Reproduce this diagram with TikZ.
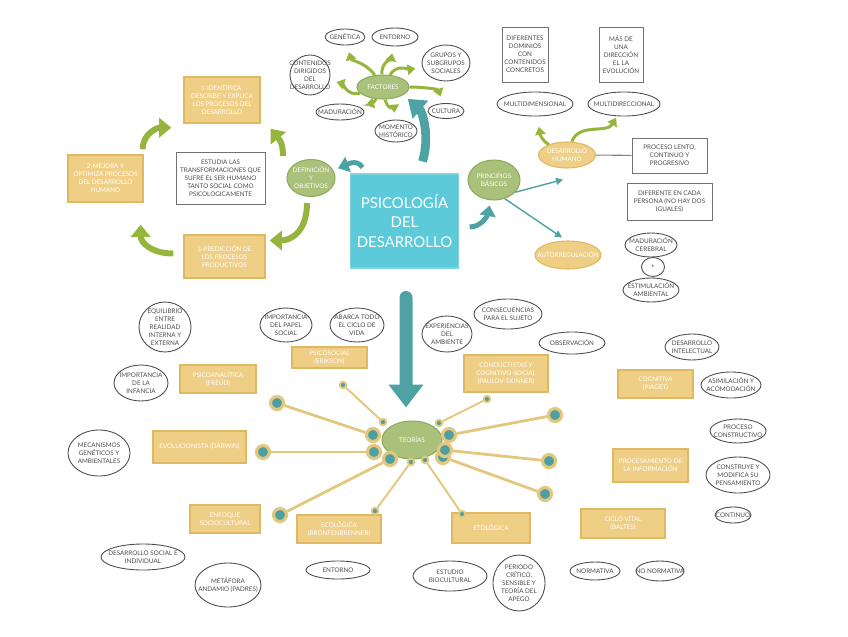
\documentclass[tikz,border=0pt]{standalone}
\usepackage{fontspec}
\setmainfont{Lato}
\usetikzlibrary{shapes.geometric,arrows.meta,positioning}

\definecolor{tanF}{HTML}{EFCE86}
\definecolor{tanD}{HTML}{E0B862}
\definecolor{grnF}{HTML}{A9C17A}
\definecolor{grnD}{HTML}{8FAA5C}
\definecolor{arrG}{HTML}{95B53C}
\definecolor{tealA}{HTML}{4FA2A3}
\definecolor{cyanB}{HTML}{5CCAD8}
\definecolor{ink}{HTML}{4D4D4D}
\definecolor{spk}{HTML}{E4C77E}
\definecolor{dotT}{HTML}{4E9FA1}

\newcommand{\sm}{\fontsize{3.6}{4.6}\selectfont}

\begin{document}
\begin{tikzpicture}[x=0.02cm, y=-0.02cm,
    sz/.style 2 args={minimum width=#1cm, minimum height=#2cm},
    tanbox/.style={rectangle, fill=tanF, draw=tanD, line width=0.8pt, text=white, align=center, font=\sm, inner sep=0.5pt},
    note/.style={rectangle, fill=white, draw=ink!80, line width=0.5pt, text=ink, align=center, font=\sm, inner sep=0.5pt},
    oval/.style={ellipse, fill=white, draw=ink, line width=0.5pt, inner sep=0pt},
    goval/.style={ellipse, fill=grnF, draw=grnD, line width=0.6pt, inner sep=0pt},
    toval/.style={ellipse, fill=tanF, draw=tanD, line width=0.6pt, inner sep=0pt},
    otxt/.style={font=\sm, text=ink, align=center, inner sep=0pt},
    wtxt/.style={font=\sm, text=white, align=center, inner sep=0pt},
    garrow/.style={draw=arrG, line width=1.7pt, -{Triangle[width=6pt,length=4.5pt]}, shorten >=4pt},
    cyc/.style={draw=arrG, line width=3.4pt, -{Triangle[width=11pt,length=7pt]}},
    tmid/.style={draw=tealA, line width=2.8pt, -{Triangle[width=9pt,length=6pt]}, shorten >=3pt},
    tthin/.style={draw=tealA, line width=0.8pt, -{Triangle[width=4pt,length=4pt]}},
    tbig/.style={draw=tealA, line width=5pt, -{Triangle[width=13pt,length=9.5pt]}},
    tdown/.style={draw=tealA, line width=7.4pt, line cap=round, -{Triangle[width=19pt,length=13pt]}},
    dotbig/.style={circle, fill=dotT, draw=spk, line width=1.8pt, minimum size=0.26cm, inner sep=0pt},
    dotsm/.style={circle, fill=dotT, draw=spk, line width=1.1pt, minimum size=0.13cm, inner sep=0pt},
    spokebig/.style={draw=spk, line width=1.6pt},
    spokesm/.style={draw=spk, line width=1.1pt}]
\useasboundingbox (0,0) rectangle (848,636);

% central topic
\node[rectangle, fill=cyanB, draw=cyanB!80!white, line width=0.6pt, sz={1.9}{1.88}, text=white, align=center,
      font=\fontsize{8.5}{11.3}\selectfont] (psi) at (404.5,221) {PSICOLOGÍA\\DEL\\DESARROLLO};

% cycle of aims
\foreach \nm/\x/\y/\ww/\hh/\txt in {
    b1/222/100/1.52/0.92/{1-IDENTIFICA,\\DESCRIBE Y EXPLICA\\LOS PROCESOS DEL\\DESARROLLO},
    b2/105.5/178.5/1.5/0.94/{2-MEJORA Y\\OPTIMIZA PROCESOS\\DEL DESARROLLO\\HUMANO},
    b3/224.5/256.5/1.62/0.86/{3-PREDICCIÓN DE\\LOS PROCESOS\\PRODUCTIVOS}}
  \node[tanbox, sz={\ww}{\hh}] (\nm) at (\x,\y) {\txt};
\node[note, sz={1.78}{1.04}] (est) at (220.5,178) {ESTUDIA LAS\\TRANSFORMACIONES QUE\\SUFRE EL SER HUMANO\\TANTO SOCIAL COMO\\PSICOLOGICAMENTE};
\node[goval, sz={0.96}{0.74}, label={[wtxt]center:{DEFINICIÓN\\Y\\OBJETIVOS}}] (def) at (311,178) {};

\draw[cyc] ([shift={(-1,-5)}]b2.north east) .. controls +(0,-16) and +(-14,0) .. ([shift={(-12,4)}]b1.south west);
\draw[cyc] ([shift={(-28,-3)}]def.north) .. controls +(0,-14) and +(8,10) .. ([shift={(10,5)}]b1.south east);
\draw[cyc] ([shift={(-4,6)}]def.south) .. controls +(0,30) and +(20,0) .. ([shift={(4,-16)}]b3.east);
\draw[cyc] ([shift={(-10,-3)}]b3.west) .. controls +(-22,0) and +(0,18) .. ([shift={(-3,22)}]b2.south east);
\draw[tmid] ([shift={(12,-6)}]psi.north west) to[out=120,in=20] (def);

% factors
\node[goval, sz={1.04}{0.48}, label={[wtxt]center:{FACTORES}}] (fac) at (383,87) {};
\foreach \nm/\x/\y/\ww/\hh/\o/\i/\txt in {
    gen/345/37/0.8/0.32/125/-75/{GENÉTICA},
    ent/395/37/0.92/0.36/95/-100/{ENTORNO},
    gru/446/63/0.96/0.72/60/190/{GRUPOS Y\\SUBGRUPOS\\SOCIALES},
    con/310/75/0.8/0.8/195/-15/{CONTENIDOS\\DIRIGIDOS\\DEL\\DESARROLLO},
    mad/340/112/0.96/0.32/-120/15/{MADURACIÓN},
    cul/446/111/0.72/0.3/0/110/{CULTURA},
    mom/396/131/0.84/0.44/-80/95/{MOMENTO\\HISTÓRICO}} {
  \node[oval, sz={\ww}{\hh}, label={[otxt]center:{\txt}}] (\nm) at (\x,\y) {};
  \draw[garrow] (fac) to[out=\o,in=\i] (\nm);
}
\draw[tbig] ([shift={(18,-12)}]psi.north) .. controls +(8,-26) and +(14,12) .. ([shift={(6,3)}]fac.south east);

% principles
\node[goval, sz={1.04}{0.8}, label={[wtxt]center:{PRINCIPIOS\\BÁSICOS}}] (pri) at (494,180) {};
\node[toval, sz={1.14}{0.52}, label={[wtxt]center:{DESARROLLO\\HUMANO}}] (dh) at (567,155) {};
\node[toval, sz={1.32}{0.56}, label={[wtxt]center:{AUTORREGULACIÓN}}] (aut) at (568,255) {};
\node[note, sz={0.92}{1.1}] (dom) at (525,54.5) {DIFERENTES\\DOMINIOS\\CON\\CONTENIDOS\\CONCRETOS};
\node[note, sz={0.88}{1.1}] (mas) at (621,54.5) {MÁS DE\\UNA\\DIRECCIÓN\\EL LA\\EVOLUCIÓN};
\node[note, sz={1.5}{0.7}] (len) at (669.5,155.5) {PROCESO LENTO,\\CONTINUO Y\\PROGRESIVO};
\node[note, sz={1.7}{0.74}] (dif) at (669.5,201.5) {DIFERENTE EN CADA\\PERSONA (NO HAY DOS\\IGUALES)};
\draw[tmid] ([shift={(11,6)}]psi.east) to[out=0,in=-100] (pri);
\draw[tthin] (pri.-30) -- ([shift={(-4,11)}]dh.south);
\draw[tthin] (pri.-60) -- ([shift={(-6,-3)}]aut.north);
\draw[ink!70, line width=0.6pt] (dh) -- (len);

% white ovals
\foreach \nm/\x/\y/\ww/\hh/\txt in {
    mdim/535/104/1.52/0.48/{MULTIDIMENSIONAL},
    mdir/624/104/1.44/0.48/{MULTIDIRECCIONAL},
    mce/651/245/1.04/0.48/{MADURACIÓN\\CEREBRAL},
    plus/653/267/0.46/0.38/{+},
    estim/651/290/1.12/0.48/{ESTIMULACIÓN\\AMBIENTAL},
    equ/165/327/1.04/1.0/{EQUILIBRIO\\ENTRE\\REALIDAD\\INTERNA Y\\EXTERNA},
    imi/141/383/1.08/0.72/{IMPORTANCIA\\DE LA\\INFANCIA},
    mec/99/453/1.24/0.92/{MECANISMOS\\GENÉTICOS Y\\AMBIENTALES},
    ips/286/325/1.04/0.68/{IMPORTANCIA\\DEL PAPEL\\SOCIAL},
    aba/357/325/1.08/0.68/{ABARCA TODO\\EL CICLO DE\\VIDA},
    exp/447/334/1.0/0.72/{EXPERIENCIAS\\DEL\\AMBIENTE},
    cns/508/314/1.36/0.6/{CONSECUENCIAS\\PARA EL SUJETO},
    obs/572/343/1.32/0.44/{OBSERVACIÓN},
    din/692/347/1.08/0.52/{DESARROLLO\\INTELECTUAL},
    asi/731/385/1.2/0.52/{ASIMILACIÓN Y\\ACOMODACIÓN},
    pcs/738/431/1.12/0.48/{PROCESO\\CONSTRUCTIVO},
    cmp/738/475/1.28/0.72/{CONSTRUYE Y\\MODIFICA SU\\PENSAMIENTO},
    cnt/733/515/0.72/0.32/{CONTINUO},
    nor/595/571/1.0/0.36/{NORMATIVA},
    non/660/571/0.96/0.4/{NO NORMATIVA},
    per/519/583/1.04/1.12/{PERIODO\\CRÍTICO,\\SENSIBLE Y\\TEORÍA DEL\\APEGO},
    ebc/450/576/1.48/0.6/{ESTUDIO\\BIOCULTURAL},
    entb/338/570/1.28/0.36/{ENTORNO},
    dsi/143/557/1.68/0.52/{DESARROLLO SOCIAL E\\INDIVIDUAL},
    met/228/585/1.32/0.88/{METÁFORA\\ANDAMIO (PADRES)}}
  \node[oval, sz={\ww}{\hh}, label={[otxt]center:{\txt}}] (\nm) at (\x,\y) {};
\draw[garrow, shorten >=6pt] (dh) to[out=150,in=-80] (mdim);
\draw[garrow, shorten >=1pt] (dh) to[out=70,in=-120] (mdir);

% theories
\node[goval, sz={1.2}{0.76}, label={[wtxt]center:{TEORÍAS}}] (teo) at (412,440) {};
\draw[tdown] ([shift={(1.5,29)}]psi.south) -- ([shift={(-6,-13)}]teo.north);
\foreach \nm/\x/\y/\ww/\hh/\txt in {
    psa/218/379/1.52/0.56/{PSICOANALÍTICA\\(FREUD)},
    evo/199.5/447/1.86/0.64/{EVOLUCIONISTA (DARWIN)},
    pss/329.5/357.5/1.5/0.42/{PSICOSOCIAL\\(ERIKSON)},
    cnd/506/373.5/1.68/0.74/{CONDUCTISTAS Y\\COGNITIVO-SOCIAL\\(PAULOV-SKINNER)},
    cog/655.5/384/1.5/0.56/{COGNITIVA\\(PIAGET)},
    pro/650.5/465.5/1.5/0.66/{PROCESAMIENTO DE\\LA INFORMACIÓN},
    cic/623/523.5/1.68/0.58/{CICLO VITAL\\(BALTES)},
    eto/491/528/1.56/0.6/{ETOLÓGICA},
    eco/339/529/1.68/0.56/{ECOLÓGICA\\(BRONFENBRENNER)},
    enf/225/519/1.4/0.56/{ENFOQUE\\SOCIOCULTURAL}}
  \node[tanbox, sz={\ww}{\hh}] (\nm) at (\x,\y) {\txt};
% spokes
\foreach \n/\ox/\oy/\ix/\iy/\kind in {1/343/385/383/422/sm, 2/277/403/373/435/big,
    3/263/452/374/452/big, 4/280/515/390/459/big, 5/375/511/411/462/sm,
    6/462/514/425/460/sm, 7/545/494/443/457/big, 8/549/461/445/450/big,
    9/555/415/449/435/big, 10/487/399/439/423/sm} {
  \node[dot\kind] (o\n) at (\ox,\oy) {};
  \node[dot\kind] (i\n) at (\ix,\iy) {};
  \draw[spoke\kind] (o\n) -- (i\n);
}
\end{tikzpicture}
\end{document}
